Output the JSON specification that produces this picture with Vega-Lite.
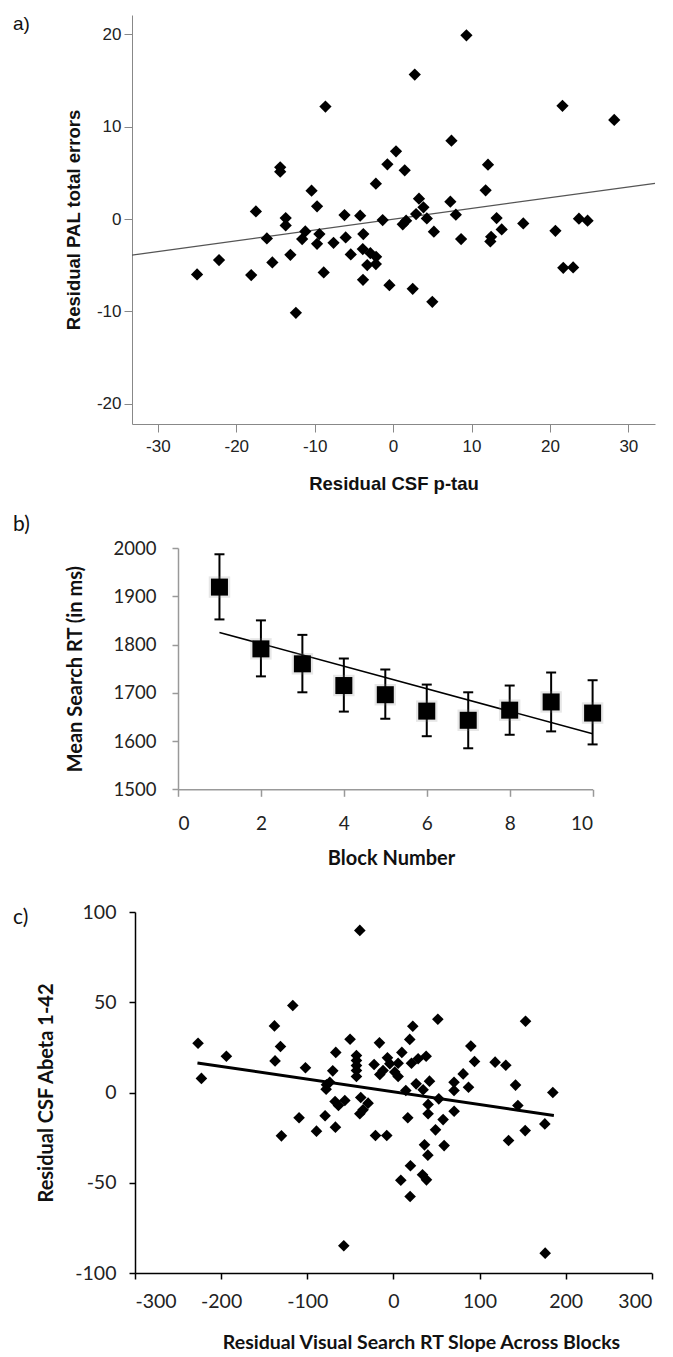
{
  "$schema": "https://vega.github.io/schema/vega-lite/v6.json",
  "background": "white",
  "padding": {"left": 13, "top": 15, "right": 0, "bottom": 0},
  "config": {
    "view": {"stroke": null},
    "axis": {"grid": false, "domainColor": "#888", "tickColor": "#888", "labelColor": "#222", "titleColor": "#111", "labelExpr": "'' + datum.value"},
    "title": {"anchor": "start", "frame": "group", "orient": "top", "offset": 0, "baseline": "top", "fontWeight": "normal", "color": "#111"}
  },
  "datasets": {
    "pa": [
      {"x": 9.35, "y": 19.9}, {"x": 2.76, "y": 15.65}, {"x": -8.63, "y": 12.18}, {"x": 21.6, "y": 12.26},
      {"x": 28.2, "y": 10.74}, {"x": 7.44, "y": 8.49}, {"x": 0.37, "y": 7.34}, {"x": -14.4, "y": 5.6},
      {"x": -14.4, "y": 5.13}, {"x": -0.73, "y": 5.93}, {"x": 1.48, "y": 5.28}, {"x": 12.1, "y": 5.89},
      {"x": -2.2, "y": 3.83}, {"x": -10.4, "y": 3.07}, {"x": 11.8, "y": 3.11}, {"x": -9.7, "y": 1.38},
      {"x": 3.3, "y": 2.2}, {"x": 3.87, "y": 1.27}, {"x": 7.3, "y": 1.88}, {"x": -17.5, "y": 0.83},
      {"x": -13.7, "y": 0.1}, {"x": -13.7, "y": -0.69}, {"x": -6.2, "y": 0.43}, {"x": -4.2, "y": 0.36},
      {"x": -1.33, "y": -0.11}, {"x": 2.93, "y": 0.54}, {"x": 4.3, "y": 0.07}, {"x": 8.0, "y": 0.47},
      {"x": 13.2, "y": 0.1}, {"x": 16.6, "y": -0.47}, {"x": 23.7, "y": 0.04}, {"x": 24.8, "y": -0.18},
      {"x": 1.66, "y": -0.18}, {"x": 1.23, "y": -0.57}, {"x": 13.85, "y": -1.12}, {"x": 5.2, "y": -1.37},
      {"x": 20.7, "y": -1.27}, {"x": -16.1, "y": -2.1}, {"x": -11.2, "y": -1.34}, {"x": -11.6, "y": -2.17},
      {"x": -9.4, "y": -1.63}, {"x": -9.7, "y": -2.68}, {"x": -7.6, "y": -2.57}, {"x": -6.05, "y": -1.99},
      {"x": -3.8, "y": -1.63}, {"x": 8.67, "y": -2.17}, {"x": 12.5, "y": -1.92}, {"x": 12.4, "y": -2.42},
      {"x": -22.2, "y": -4.45}, {"x": -15.4, "y": -4.7}, {"x": -13.1, "y": -3.87}, {"x": -5.4, "y": -3.83},
      {"x": -3.87, "y": -3.25}, {"x": -2.9, "y": -3.7}, {"x": -2.17, "y": -4.09}, {"x": -3.3, "y": -4.99},
      {"x": -2.2, "y": -4.88}, {"x": -25.0, "y": -6.0}, {"x": -18.1, "y": -6.07}, {"x": -8.85, "y": -5.78},
      {"x": -12.4, "y": -10.16}, {"x": -3.84, "y": -6.58}, {"x": -0.47, "y": -7.16}, {"x": 2.5, "y": -7.56},
      {"x": 5.0, "y": -8.97}, {"x": 21.7, "y": -5.28}, {"x": 22.96, "y": -5.24}
    ],
    "pa_fit": [{"x": -33.3, "y": -3.9}, {"x": 33.4, "y": 3.87}],
    "pb": [
      {"block": 1, "mean": 1919, "lo": 1852, "hi": 1987},
      {"block": 2, "mean": 1791, "lo": 1734, "hi": 1850},
      {"block": 3, "mean": 1760, "lo": 1701, "hi": 1820},
      {"block": 4, "mean": 1715, "lo": 1661, "hi": 1771},
      {"block": 5, "mean": 1696, "lo": 1646, "hi": 1748},
      {"block": 6, "mean": 1662, "lo": 1610, "hi": 1717},
      {"block": 7, "mean": 1643, "lo": 1585, "hi": 1701},
      {"block": 8, "mean": 1664, "lo": 1613, "hi": 1715},
      {"block": 9, "mean": 1681, "lo": 1620, "hi": 1742},
      {"block": 10, "mean": 1658, "lo": 1593, "hi": 1726}
    ],
    "pb_fit": [{"block": 1, "mean": 1825}, {"block": 10, "mean": 1615}],
    "pc": [
      {"x": -226.8, "y": 27.3}, {"x": -222.9, "y": 7.8}, {"x": -193.9, "y": 20.1}, {"x": -138.1, "y": 36.9},
      {"x": -116.8, "y": 48.2}, {"x": -131.1, "y": 25.5}, {"x": -137.4, "y": 17.5}, {"x": -102.1, "y": 13.7},
      {"x": -109.5, "y": -14.0}, {"x": -130, "y": -24}, {"x": -89.3, "y": -21.4}, {"x": -79.3, "y": -12.9},
      {"x": -67.3, "y": -19.2}, {"x": -77.7, "y": 4.3}, {"x": -73.9, "y": 5.7}, {"x": -78.1, "y": 1.8},
      {"x": -70.4, "y": 12.0}, {"x": -66.9, "y": 22.2}, {"x": -50.3, "y": 29.5}, {"x": -67.7, "y": -5.0},
      {"x": -63.8, "y": -7.2}, {"x": -56.4, "y": -4.4}, {"x": -37.9, "y": -2.8}, {"x": -29.4, "y": -5.9},
      {"x": -35.2, "y": -9.6}, {"x": -39, "y": -11.8}, {"x": -42.9, "y": 20.5}, {"x": -42.9, "y": 17.7},
      {"x": -42.9, "y": 14.9}, {"x": -42.9, "y": 12.2}, {"x": -42.9, "y": 8.9}, {"x": -22.4, "y": 15.5},
      {"x": -16.2, "y": 27.5}, {"x": -15.8, "y": 10}, {"x": -12, "y": 12.2}, {"x": -6.9, "y": 19.2},
      {"x": -4.2, "y": 15.9}, {"x": 1.6, "y": 11.3}, {"x": 5.5, "y": 8.9}, {"x": 5.5, "y": 16.2},
      {"x": 9.8, "y": 22.2}, {"x": 19.0, "y": 29.4}, {"x": 22.5, "y": 36.7}, {"x": 21, "y": 16.2},
      {"x": 28.7, "y": 18.7}, {"x": 38, "y": 20.1}, {"x": 51.6, "y": 40.6}, {"x": 14.4, "y": 1.1},
      {"x": 26.4, "y": 4.8}, {"x": 34.5, "y": 1.5}, {"x": 41.9, "y": 6.3}, {"x": 52.7, "y": -3.5},
      {"x": 40.3, "y": -6.6}, {"x": 40.3, "y": -11.8}, {"x": 16.7, "y": -14.0}, {"x": 57.7, "y": -15},
      {"x": 48.9, "y": -20.7}, {"x": 70.5, "y": -10.4}, {"x": 70.4, "y": 5.7}, {"x": 70.4, "y": 1.1},
      {"x": 81, "y": 10.3}, {"x": 87.2, "y": 2.9}, {"x": 89.9, "y": 25.7}, {"x": 94.2, "y": 17.2},
      {"x": 118.1, "y": 16.8}, {"x": 130.5, "y": 15.1}, {"x": 141.8, "y": 4.1}, {"x": 144.5, "y": -7.2},
      {"x": 153.4, "y": 39.5}, {"x": 185.1, "y": 0}, {"x": 175.8, "y": -17.4}, {"x": 153, "y": -21.1},
      {"x": 133.7, "y": -26.6}, {"x": -20.8, "y": -23.8}, {"x": -7.7, "y": -23.8}, {"x": 36.1, "y": -29},
      {"x": 58.9, "y": -29.4}, {"x": 40, "y": -34.7}, {"x": 19.8, "y": -40.6}, {"x": 33.8, "y": -45.6},
      {"x": 38.4, "y": -48.4}, {"x": 8.6, "y": -48.6}, {"x": 19.4, "y": -57.6}, {"x": -57.6, "y": -84.9},
      {"x": 176.2, "y": -89.0}, {"x": -39, "y": 89.8}
    ],
    "pc_fit": [{"x": -227.5, "y": 16.4}, {"x": 186.3, "y": -12.7}]
  },
  "columns": 1,
  "align": "none",
  "spacing": 33,
  "concat": [
    {
      "columns": 1,
      "align": "none",
      "spacing": 21,
      "concat": [
        {
          "width": 523,
          "height": 409,
          "title": {"text": "a)", "dx": -119, "dy": 23, "font": "Liberation Sans", "fontSize": 19},
          "layer": [
            {
              "data": {"name": "pa_fit"},
              "mark": {"type": "line", "color": "#555", "strokeWidth": 1.2},
              "encoding": {
                "x": {"field": "x", "type": "quantitative",
                  "scale": {"domain": [-33.3, 33.4], "nice": false, "zero": false},
                  "axis": {"values": [-30, -20, -10, 0, 10, 20, 30], "title": "Residual CSF p-tau",
                    "labelFont": "Liberation Sans", "labelFontSize": 17, "tickSize": 8, "labelPadding": 6,
                    "titleFont": "Liberation Sans", "titleFontSize": 18.5, "titleFontWeight": "bold", "titlePadding": 20}},
                "y": {"field": "y", "type": "quantitative",
                  "scale": {"domain": [-22.2, 22.1], "nice": false, "zero": false},
                  "axis": {"values": [-20, -10, 0, 10, 20], "title": "Residual PAL total errors",
                    "labelFont": "Liberation Sans", "labelFontSize": 17, "tickSize": 8, "labelPadding": 3,
                    "titleFont": "Liberation Sans", "titleFontSize": 18.5, "titleFontWeight": "bold", "titlePadding": 13}}
              }
            },
            {
              "data": {"name": "pa"},
              "mark": {"type": "point", "shape": "diamond", "filled": true, "color": "#000", "opacity": 1, "size": 150},
              "encoding": {
                "x": {"field": "x", "type": "quantitative"},
                "y": {"field": "y", "type": "quantitative"}
              }
            }
          ]
        },
        {
          "width": 460.6,
          "height": 241.3,
          "title": {"text": "b)", "dx": -119, "dy": 0, "font": "Lato", "fontSize": 21},
          "layer": [
            {
              "data": {"name": "pb_fit"},
              "mark": {"type": "line", "color": "#000", "strokeWidth": 1.5},
              "encoding": {
                "x": {"field": "block", "type": "quantitative",
                  "scale": {"domain": [0, 10], "nice": false, "range": [46, 460.6]},
                  "axis": {"values": [0, 2, 4, 6, 8, 10], "title": "Block Number", "titleX": 259,
                    "domainColor": "#999", "tickColor": "#999", "domainWidth": 1.5, "tickWidth": 1.5,
                    "labelFont": "Lato", "labelFontSize": 19, "tickSize": 7, "labelPadding": 18,
                    "titleFont": "Lato", "titleFontSize": 20, "titleFontWeight": "bold", "titlePadding": 15}},
                "y": {"field": "mean", "type": "quantitative",
                  "scale": {"domain": [1500, 2000], "nice": false, "zero": false},
                  "axis": {"values": [1500, 1600, 1700, 1800, 1900, 2000], "title": "Mean Search RT (in ms)", "offset": -46,
                    "domainColor": "#999", "tickColor": "#999", "domainWidth": 1.5, "tickWidth": 1.5,
                    "labelFont": "Lato", "labelFontSize": 18.5, "tickSize": 6, "labelPadding": 16,
                    "titleFont": "Lato", "titleFontSize": 20, "titleFontWeight": "bold", "titlePadding": 28}}
              }
            },
            {
              "data": {"name": "pb"},
              "mark": {"type": "rule", "color": "#000", "strokeWidth": 2},
              "encoding": {
                "x": {"field": "block", "type": "quantitative"},
                "y": {"field": "lo", "type": "quantitative"},
                "y2": {"field": "hi"}
              }
            },
            {
              "data": {"name": "pb"},
              "mark": {"type": "tick", "orient": "horizontal", "color": "#000", "size": 10, "thickness": 2, "opacity": 1},
              "encoding": {
                "x": {"field": "block", "type": "quantitative"},
                "y": {"field": "lo", "type": "quantitative"}
              }
            },
            {
              "data": {"name": "pb"},
              "mark": {"type": "tick", "orient": "horizontal", "color": "#000", "size": 10, "thickness": 2, "opacity": 1},
              "encoding": {
                "x": {"field": "block", "type": "quantitative"},
                "y": {"field": "hi", "type": "quantitative"}
              }
            },
            {
              "data": {"name": "pb"},
              "mark": {"type": "point", "shape": "square", "filled": true, "color": "#888", "opacity": 0.2, "size": 460},
              "encoding": {
                "x": {"field": "block", "type": "quantitative"},
                "y": {"field": "mean", "type": "quantitative"}
              }
            },
            {
              "data": {"name": "pb"},
              "mark": {"type": "point", "shape": "square", "filled": true, "color": "#000", "opacity": 1, "size": 289},
              "encoding": {
                "x": {"field": "block", "type": "quantitative"},
                "y": {"field": "mean", "type": "quantitative"}
              }
            }
          ]
        }
      ]
    },
    {
      "width": 519.8,
      "height": 361,
      "title": {"text": "c)", "dx": -119, "dy": 30, "font": "Lato", "fontSize": 21},
      "layer": [
        {
          "data": {"name": "pc_fit"},
          "mark": {"type": "line", "color": "#000", "strokeWidth": 3},
          "encoding": {
            "x": {"field": "x", "type": "quantitative",
              "scale": {"domain": [-300, 300], "nice": false, "range": [3, 519.8]},
              "axis": {"values": [-300, -200, -100, 0, 100, 200, 300], "title": "Residual Visual Search RT Slope Across Blocks",
                "titleX": 289, "domainColor": "#000", "tickColor": "#000", "domainWidth": 1.5, "tickWidth": 1.5,
                "labelFont": "Lato", "labelFontSize": 19.5, "tickSize": 6, "labelPadding": 13,
                "titleFont": "Lato", "titleFontSize": 19.5, "titleFontWeight": "bold", "titlePadding": 23}},
            "y": {"field": "y", "type": "quantitative",
              "scale": {"domain": [-100, 100], "nice": false},
              "axis": {"values": [-100, -50, 0, 50, 100], "title": "Residual CSF Abeta 1-42", "offset": -3,
                "domainColor": "#000", "tickColor": "#000", "domainWidth": 1.5, "tickWidth": 1.5,
                "labelFont": "Lato", "labelFontSize": 19.5, "tickSize": 6, "labelPadding": 13,
                "titleFont": "Lato", "titleFontSize": 20, "titleFontWeight": "bold", "titlePadding": 18}}
          }
        },
        {
          "data": {"name": "pc"},
          "mark": {"type": "point", "shape": "diamond", "filled": true, "color": "#000", "opacity": 1, "size": 135},
          "encoding": {
            "x": {"field": "x", "type": "quantitative"},
            "y": {"field": "y", "type": "quantitative"}
          }
        }
      ]
    }
  ]
}
